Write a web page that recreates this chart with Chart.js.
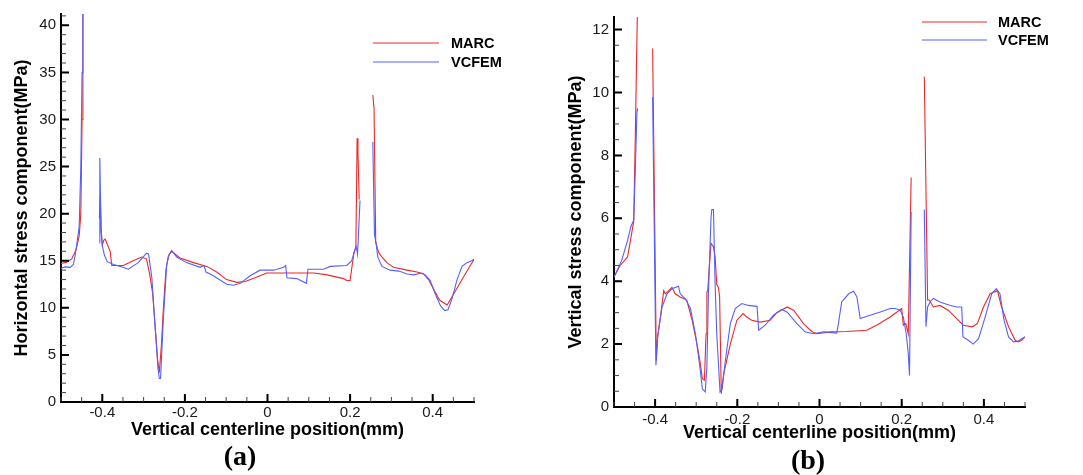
<!DOCTYPE html>
<html><head><meta charset="utf-8">
<script src="https://cdn.jsdelivr.net/npm/chart.js@4"></script>
<style>
html,body{margin:0;padding:0;background:#fff;}
#wrap{position:relative;width:1083px;height:475px;background:#fff;overflow:hidden;}
canvas{position:absolute;top:0;}
</style></head><body>
<div id="wrap">
<canvas id="ca" width="540" height="475" style="left:0"></canvas>
<canvas id="cb" width="543" height="475" style="left:540px"></canvas>
</div>
<script>
// ---------- DATA ----------
const seriesNames = ['MARC', 'VCFEM'];
const xTicks = [-0.4, -0.2, 0, 0.2, 0.4];
const yTicksA = [0, 5, 10, 15, 20, 25, 30, 35, 40];
const yTicksB = [0, 2, 4, 6, 8, 10, 12];

// (a) Horizontal stress — MARC
const marcPosA = [-0.500,-0.486,-0.474,-0.464,-0.456,-0.452,-0.449,-0.447,-0.445,-0.425,
  -0.407,-0.405,-0.403,-0.400,-0.396,-0.393,-0.381,-0.377,-0.349,-0.325,-0.305,-0.293,-0.285,-0.278,-0.272,-0.266,-0.262,-0.257,-0.252,-0.246,-0.240,-0.232,-0.212,-0.179,-0.147,-0.123,-0.099,-0.074,-0.054,-0.030,-0.002,0.063,0.112,0.144,0.184,0.192,0.200,0.209,0.214,0.217,0.219,0.222,0.240,
  0.255,0.258,0.262,0.265,0.270,0.277,0.289,0.305,0.338,0.362,0.378,0.390,0.402,0.417,0.435,0.451,0.471,0.491,0.500];
const marcValA = [14.7,14.85,15.2,16.1,17.6,20,30,40,55,null,
  19.5,22.0,18.5,16.7,17.2,17.3,16.0,14.5,14.5,15.0,15.4,15.2,13.5,11.5,8,4.5,3.1,6,10,14,15.5,16.0,15.3,14.8,14.4,13.8,13.0,12.7,12.8,13.2,13.7,13.7,13.7,13.5,13.1,12.9,12.9,15.8,16.5,28.0,26.5,21.5,null,
  32.6,31.2,17.0,16.5,15.8,15.4,14.8,14.3,14.0,13.8,13.6,13.0,12.0,10.8,10.3,11.5,13.0,14.5,15.1];

// (a) Horizontal stress — VCFEM
const vcfemPosA = [-0.500,-0.490,-0.478,-0.470,-0.466,-0.461,-0.456,-0.452,-0.449,-0.447,-0.445,-0.425,
  -0.407,-0.406,-0.403,-0.400,-0.395,-0.388,-0.373,-0.350,-0.337,-0.313,-0.293,-0.288,-0.280,-0.272,-0.265,-0.262,-0.259,-0.252,-0.244,-0.238,-0.232,-0.220,-0.196,-0.163,-0.154,-0.149,-0.131,-0.099,-0.082,-0.066,-0.042,-0.018,0.015,0.039,0.044,0.047,0.071,0.094,0.098,0.136,0.152,0.192,0.204,0.210,0.215,0.218,0.221,0.224,0.240,
  0.255,0.259,0.263,0.267,0.277,0.297,0.318,0.338,0.354,0.372,0.382,0.394,0.406,0.419,0.429,0.437,0.447,0.459,0.471,0.483,0.495,0.500];
const vcfemValA = [14.2,14.35,14.3,14.6,15.5,17.0,18.6,25,35,42,55,null,
  16.9,25.9,18.2,16.6,15.6,14.9,14.6,14.3,14.1,14.8,15.8,15.7,13.2,7.9,3.5,2.5,2.5,9,14.6,15.7,16.1,15.4,14.8,14.3,14.5,13.8,13.4,12.5,12.4,12.6,13.4,14.0,14.0,14.3,14.5,13.2,13.1,12.6,14.1,14.1,14.4,14.5,15.0,15.9,16.5,15.7,18.5,21.4,null,
  27.6,17.8,16.8,15.4,14.4,14.0,13.9,13.6,13.5,13.7,13.5,12.9,11.5,10.2,9.7,9.8,11.0,13.0,14.4,14.8,15.0,15.2];

// (b) Vertical stress — MARC
const marcPosB = [-0.500,-0.485,-0.467,-0.456,-0.452,-0.448,-0.444,-0.441,-0.425,
  -0.406,-0.397,-0.394,-0.386,-0.379,-0.375,-0.367,-0.359,-0.351,-0.339,-0.323,-0.310,-0.298,-0.290,-0.285,-0.280,-0.276,-0.274,-0.272,-0.264,-0.258,-0.254,-0.250,-0.246,-0.243,-0.239,-0.233,-0.217,-0.201,-0.186,-0.177,-0.165,-0.144,-0.120,-0.104,-0.079,-0.063,-0.039,-0.019,-0.006,0.026,0.066,0.115,0.139,0.172,0.200,0.204,0.210,0.216,0.223,0.240,
  0.255,0.263,0.267,0.277,0.293,0.314,0.334,0.350,0.372,0.384,0.399,0.415,0.433,0.443,0.460,0.476,0.484,0.492,0.500];
const marcValB = [4.13,4.5,4.77,5.6,5.9,8.7,11.9,14,null,
  11.4,1.48,2.2,2.97,3.7,3.6,3.7,3.8,3.6,3.5,3.4,2.76,2.0,1.38,0.9,0.85,2.33,3.66,3.7,5.2,5.1,4.77,3.9,3.8,3.5,0.42,1.06,2.0,2.76,2.97,2.86,2.76,2.7,2.76,3.0,3.18,3.08,2.65,2.4,2.33,2.39,2.4,2.44,2.6,2.86,3.13,2.6,2.65,2.33,7.3,null,
  10.5,3.4,3.4,3.18,3.23,3.07,2.81,2.6,2.55,2.65,3.18,3.6,3.7,3.18,2.55,2.12,2.07,2.12,2.23];

// (b) Vertical stress — VCFEM
const vcfemPosB = [-0.500,-0.481,-0.467,-0.459,-0.452,-0.448,-0.444,-0.443,-0.425,
  -0.406,-0.398,-0.394,-0.383,-0.371,-0.359,-0.343,-0.339,-0.327,-0.314,-0.302,-0.292,-0.285,-0.278,-0.274,-0.270,-0.264,-0.262,-0.258,-0.254,-0.250,-0.242,-0.237,-0.229,-0.217,-0.205,-0.189,-0.173,-0.152,-0.148,-0.132,-0.112,-0.092,-0.079,-0.055,-0.035,-0.015,0.010,0.042,0.046,0.054,0.071,0.083,0.091,0.099,0.123,0.148,0.172,0.184,0.196,0.204,0.211,0.216,0.219,0.223,0.240,
  0.255,0.259,0.263,0.269,0.277,0.293,0.318,0.334,0.346,0.349,0.362,0.374,0.387,0.403,0.419,0.430,0.439,0.449,0.460,0.472,0.484,0.492,0.500];
const vcfemValB = [4.13,4.67,5.3,5.73,5.94,7.6,9.44,9.5,null,
  9.86,1.33,2.23,3.18,3.6,3.76,3.84,3.6,3.45,3.13,2.33,1.38,0.58,0.48,1.27,3.7,6.0,6.28,6.28,3.9,2.33,0.48,0.58,1.48,2.65,3.13,3.29,3.23,3.2,2.44,2.6,2.92,3.1,3.02,2.65,2.39,2.33,2.39,2.35,2.65,3.34,3.6,3.68,3.5,2.81,2.92,3.02,3.13,3.13,3.08,2.86,2.33,1.7,1.0,6.2,null,
  6.28,2.55,3.18,3.34,3.45,3.34,3.23,3.18,3.18,2.23,2.12,2.0,2.17,2.86,3.6,3.76,3.6,2.76,2.23,2.07,2.1,2.17,2.23];

// ---------- STYLE ----------
const RED = 'rgb(236,40,40)';
const BLUE = 'rgb(85,95,255)';
const SANS = '"Liberation Sans", Arial, sans-serif';

const toXY = (xs, ys) => xs.map((x, i) => ({x: x, y: ys[i]}));

const inwardTicks = {
  id: 'inwardTicks',
  afterDraw(chart, args, o) {
    const ctx = chart.ctx, a = chart.chartArea;
    const xs = chart.scales.x, ys = chart.scales.y;
    ctx.save();
    const minor = (scale, step, isX) => {
      ctx.beginPath();
      const s = Math.ceil(scale.min / step - 1e-9), e = Math.floor(scale.max / step + 1e-9);
      for (let i = s; i <= e; i++) {
        const p = scale.getPixelForValue(i * step);
        if (isX) { ctx.moveTo(p, a.bottom); ctx.lineTo(p, a.bottom - 5); }
        else { ctx.moveTo(a.left, p); ctx.lineTo(a.left + 5, p); }
      }
      ctx.strokeStyle = '#444'; ctx.lineWidth = 1; ctx.stroke();
    };
    const major = (scale, vals, isX) => {
      ctx.beginPath();
      vals.forEach(v => {
        const p = scale.getPixelForValue(v);
        if (isX) { ctx.moveTo(p, a.bottom); ctx.lineTo(p, a.bottom - 8); }
        else { ctx.moveTo(a.left, p); ctx.lineTo(a.left + 8, p); }
      });
      ctx.strokeStyle = '#000'; ctx.lineWidth = 2; ctx.stroke();
    };
    minor(xs, o.xMinor, true); minor(ys, o.yMinor, false);
    major(xs, xTicks, true); major(ys, o.yMajor, false);

    // legend
    const dsets = chart.data.datasets;
    ctx.font = 'bold 14.5px ' + SANS;
    ctx.textBaseline = 'middle'; ctx.textAlign = 'left';
    dsets.forEach((d, i) => {
      const y = o.legY + i * o.legGap;
      ctx.beginPath(); ctx.moveTo(o.legX1, y); ctx.lineTo(o.legX2, y);
      ctx.strokeStyle = d.borderColor; ctx.lineWidth = 1; ctx.stroke();
      ctx.fillStyle = '#000'; ctx.fillText(d.label, o.legTx, y + 1);
    });
    // panel label
    ctx.font = 'bold 28px "Liberation Serif", "Times New Roman", serif';
    ctx.textAlign = 'center';
    ctx.fillText(o.panel, o.panelX, o.panelY);
    ctx.restore();
  }
};

function makeChart(id, c) {
  return new Chart(document.getElementById(id), {
    type: 'scatter',
    data: { datasets: [
      { label: seriesNames[0], data: toXY(c.mx, c.my), showLine: true, borderColor: RED, backgroundColor: RED, borderWidth: 1.1, pointRadius: 0, tension: 0, order: 1 },
      { label: seriesNames[1], data: toXY(c.vx, c.vy), showLine: true, borderColor: BLUE, backgroundColor: BLUE, borderWidth: 1.1, pointRadius: 0, tension: 0, order: 0 }
    ]},
    options: {
      responsive: false, animation: false, devicePixelRatio: 1,
      layout: { padding: { left: 0, top: c.top, right: c.right, bottom: 0 } },
      plugins: {
        legend: { display: false }, tooltip: { enabled: false },
        inwardTicks: c.tk
      },
      scales: {
        x: {
          type: 'linear', min: -0.5, max: 0.5,
          afterBuildTicks: s => { s.ticks = xTicks.map(v => ({value: v})); },
          afterFit: s => { s.height = c.xh; },
          grid: { display: false, drawTicks: false },
          border: { display: true, color: '#000', width: 2 },
          ticks: { padding: c.xpad, autoSkip: false, maxRotation: 0, color: '#1a1a1a', font: { family: SANS, size: 15 }, callback: v => String(v) },
          title: { display: true, text: c.xTitle, color: '#000', font: { family: SANS, size: 18, weight: 'bold' }, padding: { top: 0, bottom: c.xtpad } }
        },
        y: {
          type: 'linear', min: 0, max: c.ymax,
          afterBuildTicks: s => { s.ticks = c.yMajor.map(v => ({value: v})); },
          afterFit: s => { s.width = c.yw; },
          grid: { display: false, drawTicks: false },
          border: { display: true, color: '#000', width: 2 },
          ticks: { padding: 5, autoSkip: false, color: '#1a1a1a', font: { family: SANS, size: 15 }, callback: v => String(v) },
          title: { display: true, text: c.yTitle, color: '#000', font: { family: SANS, size: 18, weight: 'bold' }, padding: { top: c.ytpad, bottom: 0 } }
        }
      }
    },
    plugins: [inwardTicks]
  });
}

makeChart('ca', {
  mx: marcPosA, my: marcValA, vx: vcfemPosA, vy: vcfemValA,
  top: 13, right: 66, xh: 73, yw: 61, ymax: 41.2, yMajor: yTicksA, xpad: 2,
  xTitle: 'Vertical centerline position(mm)', yTitle: 'Horizontal stress component(MPa)',
  xtpad: 34, ytpad: 11,
  tk: { xMinor: 0.05, yMinor: 1, yMajor: yTicksA, legX1: 373, legX2: 439, legTx: 451, legY: 43, legGap: 19, panel: '(a)', panelX: 240, panelY: 458 }
});
makeChart('cb', {
  mx: marcPosB, my: marcValB, vx: vcfemPosB, vy: vcfemValB,
  top: 17, right: 58, xh: 68, yw: 74, ymax: 12.4, yMajor: yTicksB, xpad: 4,
  xTitle: 'Vertical centerline position(mm)', yTitle: 'Vertical stress component(MPa)',
  xtpad: 31, ytpad: 25.5,
  tk: { xMinor: 0.05, yMinor: 0.5, yMajor: yTicksB, legX1: 382, legX2: 447, legTx: 458, legY: 22, legGap: 18, panel: '(b)', panelX: 268, panelY: 462 }
});
</script>
</body></html>
